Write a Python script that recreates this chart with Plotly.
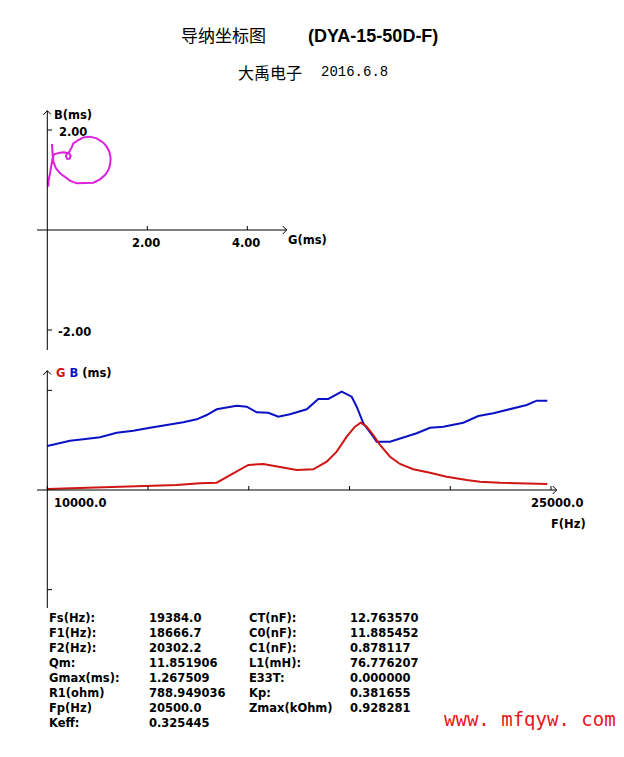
import plotly.graph_objects as go

W, H = 624, 757

# ---------------- data ----------------
# admittance circle (top): G (ms) vs B (ms), in frequency order
polar_G = [0.02, 0.027, 0.054, 0.074, 0.094, 0.107, 0.134, 0.187, 0.254, 0.334,
           0.387, 0.441, 0.467, 0.447, 0.401, 0.374, 0.387, 0.441, 0.487, 0.521,
           0.621, 0.721, 0.854, 0.987, 1.121, 1.187, 1.241, 1.267, 1.254, 1.221,
           1.154, 1.054, 0.921, 0.754, 0.587, 0.454, 0.354, 0.254, 0.174, 0.121,
           0.107, 0.101, 0.094]
polar_B = [0.867, 1.0, 1.133, 1.267, 1.367, 1.433, 1.513, 1.533, 1.547, 1.553,
           1.54, 1.527, 1.48, 1.427, 1.42, 1.467, 1.52, 1.567, 1.653, 1.733,
           1.8, 1.853, 1.867, 1.833, 1.747, 1.667, 1.567, 1.433, 1.3, 1.2,
           1.1, 1.013, 0.947, 0.933, 0.933, 0.987, 1.053, 1.133, 1.233, 1.367,
           1.5, 1.6, 1.72]

# bottom: B and G versus frequency
freq_B = [10000, 10378, 10676, 11072, 11569, 12067, 12561, 13058, 13556, 14050,
          14449, 14747, 15045, 15640, 15938, 16236, 16581, 16879, 17227, 17725,
          18070, 18368, 18767, 19065, 19214, 19411, 19708, 19809, 20206, 20602,
          21001, 21397, 21793, 22389, 22835, 23282, 23878, 24277, 24574, 24890]
B_ms = [0.83, 0.893, 0.93, 0.957, 0.994, 1.081, 1.119, 1.175, 1.226, 1.277,
        1.334, 1.415, 1.523, 1.591, 1.572, 1.466, 1.458, 1.383, 1.428, 1.523,
        1.717, 1.717, 1.855, 1.76, 1.572, 1.258, 1.006, 0.911, 0.911, 0.994,
        1.07, 1.175, 1.194, 1.27, 1.396, 1.447, 1.542, 1.604, 1.685, 1.685]
freq_G = [10000, 10876, 12067, 12960, 13853, 14547, 15045, 15539, 15986, 16432,
          16930, 17427, 17921, 18321, 18618, 18916, 19163, 19333, 19512, 19708,
          19908, 20206, 20503, 20899, 21397, 21894, 22490, 22886, 23481, 24277,
          24890]
G_ms = [0.019, 0.038, 0.057, 0.075, 0.094, 0.126, 0.138, 0.315, 0.472, 0.491,
        0.428, 0.377, 0.391, 0.534, 0.723, 1.006, 1.194, 1.27, 1.194, 1.038,
        0.849, 0.628, 0.491, 0.391, 0.326, 0.251, 0.189, 0.157, 0.138, 0.126,
        0.113]

top_xticks = [2.0, 4.0]
top_xtick_labels = ["2.00", "4.00"]
top_yticks = [2.0, -2.0]
top_ytick_labels = ["2.00", "-2.00"]
bot_xticks = [10000, 13000, 16000, 19000, 22000, 25000]
bot_yticks = [1.88, -1.88]

names_left = ["Fs(Hz):", "F1(Hz):", "F2(Hz):", "Qm:", "Gmax(ms):", "R1(ohm)", "Fp(Hz)", "Keff:"]
values_left = ["19384.0", "18666.7", "20302.2", "11.851906", "1.267509", "788.949036", "20500.0", "0.325445"]
names_right = ["CT(nF):", "C0(nF):", "C1(nF):", "L1(mH):", "E33T:", "Kp:", "Zmax(kOhm)"]
values_right = ["12.763570", "11.885452", "0.878117", "76.776207", "0.000000", "0.381655", "0.928281"]

MAGENTA = "#dd1fdd"
RED = "#d01515"
BLUE = "#0b12c4"

# ---------------- geometry (pixels) ----------------
T_X0, T_Y0, T_S = 47.3, 230.0, 50.0        # top: origin px, px per ms
T_TOP, T_BOT = 100, 360
B_X0, B_X1, F0, F1 = 47.3, 551.0, 10000.0, 25000.0
B_Y0, B_S = 490.0, 53.0
B_TOP, B_BOT = 360, 620
HZ_PX = (F1 - F0) / (B_X1 - B_X0)

def tG(px): return (px - T_X0) / T_S
def tB(py): return (T_Y0 - py) / T_S
def bF(px): return F0 + (px - B_X0) * HZ_PX
def bV(py): return (B_Y0 - py) / B_S

fig = go.Figure()
fig.add_trace(go.Scatter(x=polar_G, y=polar_B, mode="lines",
                         line=dict(color=MAGENTA, width=2), xaxis="x", yaxis="y"))
fig.add_trace(go.Scatter(x=freq_B, y=B_ms, mode="lines",
                         line=dict(color=BLUE, width=2), xaxis="x2", yaxis="y2"))
fig.add_trace(go.Scatter(x=freq_G, y=G_ms, mode="lines",
                         line=dict(color=RED, width=2), xaxis="x2", yaxis="y2"))

shapes = []
def seg(xref, yref, x0, y0, x1, y1, w=1):
    shapes.append(dict(type="line", xref=xref, yref=yref, x0=x0, y0=y0, x1=x1, y1=y1,
                       line=dict(color="black", width=w)))

# top axes
seg("x", "y", tG(37), 0, tG(286.7), 0)
seg("x", "y", 0, tB(110.7), 0, tB(350))
seg("x", "y", tG(43.3), tB(115), 0, tB(110.7))
seg("x", "y", 0, tB(110.7), tG(51), tB(114.5))
seg("x", "y", tG(282.7), tB(226), tG(286.7), 0)
seg("x", "y", tG(286.7), 0, tG(282.7), tB(234))
for t in top_xticks:
    seg("x", "y", t, 0, t, tB(226))
for t in top_yticks:
    seg("x", "y", 0, t, tG(52), t)

# bottom axes
seg("x2", "y2", bF(37), 0, bF(556.7), 0)
seg("x2", "y2", F0, bV(370.7), F0, bV(608))
seg("x2", "y2", bF(43.3), bV(375), F0, bV(370.7))
seg("x2", "y2", F0, bV(370.7), bF(51), bV(374.5))
seg("x2", "y2", bF(552.7), bV(486), bF(556.7), 0)
seg("x2", "y2", bF(556.7), 0, bF(552.7), bV(494))
for t in bot_xticks:
    seg("x2", "y2", t, 0, t, bV(486))
for t in bot_yticks:
    seg("x2", "y2", F0, t, bF(52), t)

ann = []
LBL = dict(family="DejaVu Sans", size=11.5, color="black", weight="bold")

def ptext(text, px, py, xanchor="left", font=None):
    ann.append(dict(text=text, x=px / W, y=1 - py / H, xref="paper", yref="paper",
                    xanchor=xanchor, yanchor="middle", showarrow=False,
                    font=font or LBL, borderpad=0))

# titles
ptext("导纳坐标图", 223.5, 35, "center",
      dict(family="Noto Sans CJK SC", size=17, color="black"))
ptext("(DYA-15-50D-F)", 372.5, 36, "center",
      dict(family="Liberation Sans", size=18, color="black", weight="bold"))
ptext("大禹电子", 269.5, 72, "center",
      dict(family="Noto Sans CJK SC", size=16, color="black"))
ptext("2016.6.8", 320, 72, "left",
      dict(family="Liberation Mono", size=14, color="black"))

# top labels
ptext("B(ms)", 52.5, 115)
ptext("G(ms)", 287, 239.5)
for t, lab in zip(top_yticks, top_ytick_labels):
    ann.append(dict(text=lab, x=0, y=t, xref="x", yref="y", xanchor="left", yanchor="middle",
                    xshift=(57.5 if t > 0 else 56.5) - T_X0, yshift=-2.3, showarrow=False,
                    font=LBL, borderpad=0))
for t, lab in zip(top_xticks, top_xtick_labels):
    ann.append(dict(text=lab, x=t, y=0, xref="x", yref="y", xanchor="center", yanchor="middle",
                    xshift=-1, yshift=-13.5, showarrow=False, font=LBL, borderpad=0))

# bottom labels
ptext('<span style="color:%s">G</span> <span style="color:%s">B</span> (ms)' % (RED, BLUE), 55, 373)
ann.append(dict(text="10000.0", x=F0, y=0, xref="x2", yref="y2", xanchor="left", yanchor="middle",
                xshift=53 - B_X0, yshift=-13, showarrow=False, font=LBL, borderpad=0))
ann.append(dict(text="25000.0", x=F1, y=0, xref="x2", yref="y2", xanchor="left", yanchor="middle",
                xshift=530 - B_X1, yshift=-13, showarrow=False, font=LBL, borderpad=0))
ptext("F(Hz)", 549.5, 523.5)

# parameter table
for i, (n, v) in enumerate(zip(names_left, values_left)):
    ptext(n, 48, 618 + 15 * i)
    ptext(v, 148, 618 + 15 * i)
for i, (n, v) in enumerate(zip(names_right, values_right)):
    ptext(n, 248, 618 + 15 * i)
    ptext(v, 349, 618 + 15 * i)

# watermark
ptext("www. mfqyw. com", 443, 719, "left",
      dict(family="DejaVu Sans Mono", size=19, color="#e8141a"))

fig.update_layout(
    width=W, height=H, margin=dict(l=0, r=0, t=0, b=0),
    paper_bgcolor="white", plot_bgcolor="rgba(0,0,0,0)", showlegend=False,
    xaxis=dict(domain=[0, 1], range=[tG(0), tG(W)], visible=False, fixedrange=True),
    yaxis=dict(domain=[1 - T_BOT / H, 1 - T_TOP / H], range=[tB(T_BOT), tB(T_TOP)],
               visible=False, fixedrange=True),
    xaxis2=dict(domain=[0, 1], range=[bF(0), bF(W)], visible=False, fixedrange=True),
    yaxis2=dict(domain=[1 - B_BOT / H, 1 - B_TOP / H], range=[bV(B_BOT), bV(B_TOP)],
                visible=False, fixedrange=True, anchor="x2"),
    shapes=shapes, annotations=ann,
)
fig.write_html("out.html")
